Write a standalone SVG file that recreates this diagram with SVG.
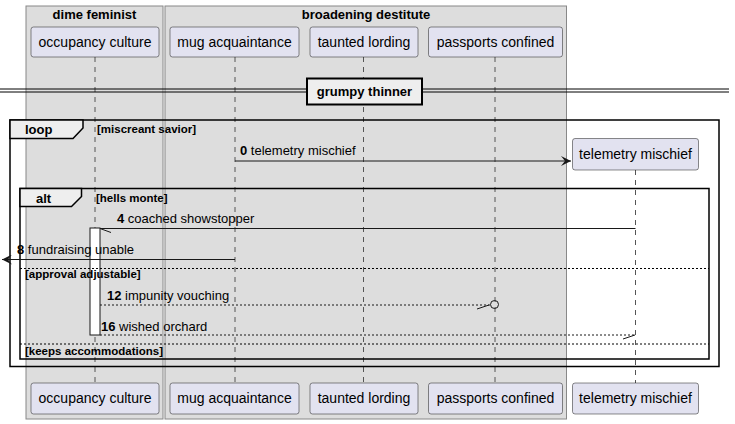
<svg xmlns="http://www.w3.org/2000/svg" width="735" height="424" viewBox="0 0 735 424">
<style>
text{font-family:"Liberation Sans",Arial,sans-serif;fill:#000}
.grp{fill:#DDDDDD;stroke:#888888;stroke-width:1}
.gt{font-size:13px;font-weight:bold;text-anchor:middle}
.pbox{fill:#E2E2F0;stroke:#181818;stroke-width:0.5}
.pt{font-size:14px;text-anchor:middle}
.life{stroke:#555555;stroke-width:1;stroke-dasharray:5,5;fill:none}
.frame{fill:none;stroke:#000;stroke-width:1.5}
.tab{fill:#EEEEEE;stroke:#000;stroke-width:1.5}
.ft{font-size:13px;font-weight:bold}
.cond{font-size:11.5px;font-weight:bold}
.msg{stroke:#181818;stroke-width:1;fill:none}
.dash{stroke-dasharray:2,2}
.else{stroke:#000;stroke-width:1;stroke-dasharray:2,2;fill:none}
.mt{font-size:13px}
.b{font-weight:bold}
</style>
<defs>
<marker id="arr" viewBox="0 0 10 10" refX="10" refY="5" markerWidth="10" markerHeight="10" orient="auto" markerUnits="userSpaceOnUse">
<path d="M0,0 L10,5 L0,10 L4,5 Z" fill="#181818"/>
</marker>
</defs>
<g id="box-dime-feminist">
<rect class="grp" x="26" y="6" width="137" height="413"/>
<text class="gt" x="94.5" y="19">dime feminist</text>
</g>
<g id="box-broadening-destitute">
<rect class="grp" x="165" y="6" width="401.5" height="413"/>
<text class="gt" x="366" y="19">broadening destitute</text>
</g>
<g id="lifelines">
<line class="life" x1="95" y1="57" x2="95" y2="383"/>
<line class="life" x1="235" y1="57" x2="235" y2="383"/>
<line class="life" x1="363.5" y1="57" x2="363.5" y2="383"/>
<line class="life" x1="495" y1="57" x2="495" y2="383"/>
<line class="life" x1="635.5" y1="170" x2="635.5" y2="383"/>
</g>
<g id="p-occupancy-culture">
<rect class="pbox" x="31" y="27" width="128" height="30" rx="2.5"/>
<text class="pt" x="95" y="47">occupancy culture</text>
<rect class="pbox" x="31" y="383" width="128" height="31" rx="2.5"/>
<text class="pt" x="95" y="403">occupancy culture</text>
</g>
<g id="p-mug-acquaintance">
<rect class="pbox" x="170" y="27" width="129" height="30" rx="2.5"/>
<text class="pt" x="234.5" y="47">mug acquaintance</text>
<rect class="pbox" x="170" y="383" width="129" height="31" rx="2.5"/>
<text class="pt" x="234.5" y="403">mug acquaintance</text>
</g>
<g id="p-taunted-lording">
<rect class="pbox" x="310" y="27" width="108" height="30" rx="2.5"/>
<text class="pt" x="364" y="47">taunted lording</text>
<rect class="pbox" x="310" y="383" width="108" height="31" rx="2.5"/>
<text class="pt" x="364" y="403">taunted lording</text>
</g>
<g id="p-passports-confined">
<rect class="pbox" x="428.5" y="27" width="134" height="30" rx="2.5"/>
<text class="pt" x="495.5" y="47">passports confined</text>
<rect class="pbox" x="428.5" y="383" width="134" height="31" rx="2.5"/>
<text class="pt" x="495.5" y="403">passports confined</text>
</g>
<g id="p-telemetry-mischief">
<rect class="pbox" x="572.5" y="138.5" width="126" height="31.5" rx="2.5"/>
<text class="pt" x="635.5" y="159">telemetry mischief</text>
<rect class="pbox" x="572.5" y="383" width="126" height="31" rx="2.5"/>
<text class="pt" x="635.5" y="403">telemetry mischief</text>
</g>
<g id="divider-grumpy-thinner">
<line x1="0" y1="89" x2="729" y2="89" stroke="#000" stroke-width="1"/>
<line x1="0" y1="92" x2="729" y2="92" stroke="#000" stroke-width="1"/>
<rect x="307" y="78.5" width="115" height="26" fill="#EEEEEE" stroke="#000" stroke-width="2"/>
<text class="ft" x="364.5" y="96" text-anchor="middle">grumpy thinner</text>
</g>
<g id="activation">
<rect x="90" y="228" width="10" height="107" fill="#FFFFFF" stroke="#181818" stroke-width="1"/>
</g>
<g id="loop-frame">
<rect class="frame" x="10" y="120" width="709" height="246.5"/>
<path class="tab" d="M10,120 L83,120 L83,128 L73,138.5 L10,138.5 Z"/>
<text class="ft" x="25" y="134">loop</text>
<text class="cond" x="97" y="133">[miscreant savior]</text>
</g>
<g id="alt-frame">
<rect class="frame" x="20" y="188.5" width="689" height="170.5"/>
<path class="tab" d="M20,188.5 L81.5,188.5 L81.5,196.5 L71.5,206.5 L20,206.5 Z"/>
<text class="ft" x="36" y="203">alt</text>
<text class="cond" x="96" y="202">[hells monte]</text>
<line class="else" x1="20" y1="268.5" x2="709" y2="268.5"/>
<text class="cond" x="25" y="278">[approval adjustable]</text>
<line class="else" x1="20" y1="344" x2="709" y2="344"/>
<text class="cond" x="25" y="355">[keeps accommodations]</text>
</g>
<g id="connectors">
<line class="msg" x1="235" y1="161" x2="571" y2="161" marker-end="url(#arr)"/>
<text class="mt" x="240" y="155"><tspan class="b">0</tspan> telemetry mischief</text>
<line class="msg" x1="635.5" y1="228.5" x2="100" y2="228.5"/>
<line class="msg" x1="100" y1="228.5" x2="111" y2="232.5"/>
<text class="mt" x="117" y="223"><tspan class="b">4</tspan> coached showstopper</text>
<line class="msg" x1="235" y1="259.5" x2="2" y2="259.5" marker-end="url(#arr)"/>
<text class="mt" x="17" y="254"><tspan class="b">8</tspan> fundraising unable</text>
<line class="msg dash" x1="100" y1="305" x2="490.5" y2="305"/>
<line class="msg" x1="489" y1="305" x2="477" y2="309"/>
<circle cx="494.5" cy="304.5" r="4" fill="none" stroke="#181818" stroke-width="1"/>
<text class="mt" x="107" y="300"><tspan class="b">12</tspan> impunity vouching</text>
<line class="msg dash" x1="100" y1="335" x2="635" y2="335"/>
<line class="msg" x1="635" y1="335" x2="623" y2="339"/>
<text class="mt" x="101" y="331"><tspan class="b">16</tspan> wished orchard</text>
</g>
</svg>
